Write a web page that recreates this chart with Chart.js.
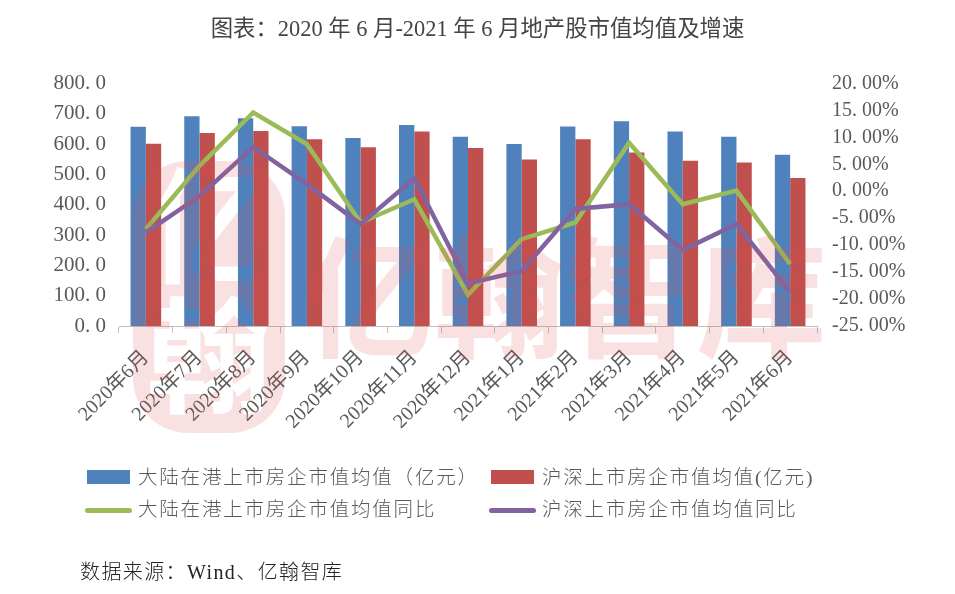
<!DOCTYPE html>
<html>
<head>
<meta charset="utf-8">
<style>
  html, body { margin: 0; padding: 0; background: #fff; }
  #wrap { position: relative; width: 955px; height: 594px; overflow: hidden; font-family: "Liberation Serif", "Noto Sans CJK SC", serif; }
  canvas { position: absolute; left: 0; top: 0; }
  .legend-item { position: absolute; height: 30px; line-height: 30px; font-size: 19.5px; color: #595959; white-space: nowrap; letter-spacing: 1.8px; font-weight: 300; }
  .legend-key { position: absolute; left: 0; }
  .legend-text { position: absolute; left: 51px; top: 0; }
  #source { position: absolute; left: 80px; top: 556px; font-size: 20px; color: #222; letter-spacing: 1.4px; white-space: nowrap; font-weight: 300; }
  .mark { position: absolute; color: rgba(225, 80, 80, 0.17); font-family: "Noto Sans CJK SC", sans-serif; font-weight: 700; white-space: nowrap; pointer-events: none; }
  #logo { position: absolute; left: 133px; top: 161px; pointer-events: none; }
</style>
</head>
<body>
<div id="wrap">
  <canvas id="myChart" width="955" height="594"></canvas>
  <!-- watermark logo: pale rounded block with the glyphs cut out, bars show through -->
  <svg id="logo" width="152" height="272" viewBox="0 0 152 272">
    <mask id="logoCut">
      <rect width="152" height="272" fill="#fff"></rect>
      <text x="76" y="112" font-size="125" font-weight="700" font-family="Noto Sans CJK SC" text-anchor="middle" fill="#000">亿</text>
      <text x="76" y="242" font-size="125" font-weight="700" font-family="Noto Sans CJK SC" text-anchor="middle" fill="#000">翰</text>
    </mask>
    <rect width="152" height="272" rx="55" fill="rgba(225, 80, 80, 0.17)" mask="url(#logoCut)"></rect>
  </svg>
  <div class="mark" style="left: 303px; top: 190px; font-size: 131px; line-height: 200px;">亿翰智库</div>
  <div id="legend"></div>
  <div id="source">数据来源：Wind、亿翰智库</div>
</div>
<script src="https://cdn.jsdelivr.net/npm/chart.js@4"></script>
<script>
const months = ["2020年6月", "2020年7月", "2020年8月", "2020年9月", "2020年10月", "2020年11月", "2020年12月", "2021年1月", "2021年2月", "2021年3月", "2021年4月", "2021年5月", "2021年6月"];
const hkValues = [657, 692, 685, 659, 620, 663, 624, 600, 658, 675, 641, 624, 565];
const szValues = [601, 636, 643, 616, 589, 641, 587, 549, 616, 572, 545, 539, 488];
const hkGrowth = [-7.0, 4.7, 14.6, 8.7, -5.8, -1.5, -19.2, -8.9, -5.8, 9.0, -2.4, 0.1, -13.5];
const szGrowth = [-7.7, -0.9, 8.2, 1.3, -6.1, 2.4, -17.1, -14.8, -3.3, -2.4, -10.9, -6.1, -18.7];

const serif = '"Liberation Serif", "Noto Sans CJK SC", serif';
const tickColor = "#595959";

new Chart("myChart", {
  type: "bar",
  data: {
    labels: months,
    datasets: [
      { label: "大陆在港上市房企市值均值（亿元）", data: hkValues, backgroundColor: "#4f81bd", yAxisID: "y", order: 3, categoryPercentage: 0.57, barPercentage: 1 },
      { label: "沪深上市房企市值均值(亿元)", data: szValues, backgroundColor: "#c0504d", yAxisID: "y", order: 3, categoryPercentage: 0.57, barPercentage: 1 },
      { type: "line", label: "大陆在港上市房企市值均值同比", data: hkGrowth, borderColor: "#9bbb59", borderWidth: 4.5, pointRadius: 0, tension: 0, yAxisID: "y1", order: 2 },
      { type: "line", label: "沪深上市房企市值均值同比", data: szGrowth, borderColor: "#8064a2", borderWidth: 4.5, pointRadius: 0, tension: 0, yAxisID: "y1", order: 1 },
    ],
  },
  options: {
    responsive: false,
    animation: false,
    plugins: {
      legend: { display: false },
      tooltip: { enabled: false },
      title: {
        display: true,
        text: "图表：2020 年 6 月-2021 年 6 月地产股市值均值及增速",
        color: "#444",
        font: { family: serif, size: 22.4, weight: "normal" },
        padding: { top: 17, bottom: 39.5 },
      },
    },
    scales: {
      x: {
        offset: true,
        grid: { offset: true, drawOnChartArea: false, drawTicks: true, color: "#bfbfbf", tickLength: 7 },
        border: { color: "#bfbfbf" },
        ticks: { color: tickColor, font: { family: serif, size: 20 }, maxRotation: 45, minRotation: 45, autoSkip: false, padding: 13 },
        afterFit: (s) => { s.height = 594 - 326; },
      },
      y: {
        position: "left",
        min: 0,
        max: 800,
        grid: { display: false },
        border: { display: false },
        ticks: { stepSize: 100, autoSkip: false, color: tickColor, font: { family: serif, size: 21 }, padding: 5, callback: (v) => v.toFixed(1).replace(".", ". ") },
        afterFit: (s) => { s.width = 119; },
      },
      y1: {
        position: "right",
        min: -25,
        max: 20,
        grid: { display: false },
        border: { display: false },
        ticks: { stepSize: 5, autoSkip: false, color: tickColor, font: { family: serif, size: 20 }, padding: 7, callback: (v) => v.toFixed(2).replace(".", ". ") + "%" },
        afterFit: (s) => { s.width = 955 - 817; },
      },
    },
  },
});

// legend is laid out by hand, two columns
const legendSlots = [
  { left: 87, top: 463, bar: true, color: "#4f81bd", text: "大陆在港上市房企市值均值（亿元）" },
  { left: 491, top: 463, bar: true, color: "#c0504d", text: "沪深上市房企市值均值(亿元)" },
  { left: 85, top: 495, bar: false, color: "#9bbb59", text: "大陆在港上市房企市值均值同比" },
  { left: 489, top: 495, bar: false, color: "#8064a2", text: "沪深上市房企市值均值同比" },
];
const legendBox = document.getElementById("legend");
legendSlots.forEach((slot) => {
  const item = document.createElement("div");
  item.className = "legend-item";
  item.style.left = slot.left + "px";
  item.style.top = slot.top + "px";
  const key = document.createElement("div");
  key.className = "legend-key";
  key.style.background = slot.color;
  key.style.width = slot.bar ? "43px" : "47px";
  key.style.height = slot.bar ? "14px" : "4.5px";
  key.style.top = slot.bar ? "7px" : "13px";
  key.style.borderRadius = slot.bar ? "0" : "3px";
  const text = document.createElement("div");
  text.className = "legend-text";
  if (!slot.bar) text.style.left = "53px";
  text.textContent = slot.text;
  item.appendChild(key);
  item.appendChild(text);
  legendBox.appendChild(item);
});
</script>
</body>
</html>
